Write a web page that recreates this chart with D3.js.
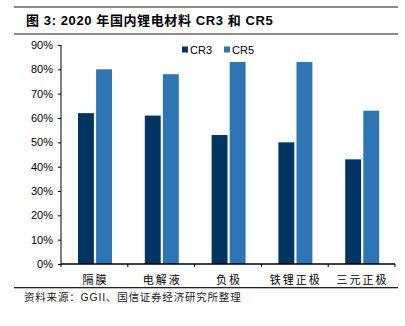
<!DOCTYPE html>
<html>
<head>
<meta charset="utf-8">
<style>
  html, body { margin: 0; padding: 0; background: #fff; }
  svg { display: block; font-family: "Liberation Sans", Arial, "Noto Sans CJK SC", sans-serif; }
</style>
</head>
<body>
<svg id="chart" width="405" height="326"></svg>
<script src="https://cdn.jsdelivr.net/npm/d3@7/dist/d3.min.js"></script>
<script>
// 2020 domestic lithium battery material concentration
const categories = ["隔膜", "电解液", "负极", "铁锂正极", "三元正极"];
const seriesNames = ["CR3", "CR5"];
const cr3 = [62, 61, 53, 50, 43];
const cr5 = [80, 78, 83, 83, 63];
const yTicks = [0, 10, 20, 30, 40, 50, 60, 70, 80, 90];

const colors = ["#003462", "#2e75b6"];
const svg = d3.select("#chart");

// header rules and title
svg.append("rect").attr("x", 14).attr("y", 6).attr("width", 384).attr("height", 2).attr("fill", "#8c8c8c");
svg.append("rect").attr("x", 14).attr("y", 33).attr("width", 384).attr("height", 2).attr("fill", "#8c8c8c");
svg.append("text")
   .attr("x", 26).attr("y", 25)
   .style("font-size", "13px").style("font-weight", "bold")
   .style("letter-spacing", "0.6px")
   .text("图 3: 2020 年国内锂电材料 CR3 和 CR5");

const x = d3.scaleBand().domain(categories).range([61, 395]);
const y = d3.scaleLinear().domain([0, 90]).range([264, 45]);
const inner = d3.scaleBand().domain(seriesNames).range([17, 51]).paddingInner(0.12);

// y axis
const yAxis = svg.append("g")
   .attr("transform", "translate(61,0)")
   .call(d3.axisLeft(y).tickValues(yTicks).tickSize(3).tickFormat(d => d + "%"));
yAxis.selectAll("text").style("font-size", "11px").attr("fill", "#000").attr("dx", "-2");
yAxis.selectAll("line").attr("stroke", "#000");
yAxis.select(".domain").attr("stroke", "#000").attr("d", "M0," + y(90) + "V" + y(0));

// bars
const groups = svg.selectAll("g.cat")
   .data(categories)
   .enter().append("g")
   .attr("class", "cat")
   .attr("transform", d => "translate(" + x(d) + ",0)");

groups.selectAll("rect")
   .data((d, i) => [{s: "CR3", v: cr3[i]}, {s: "CR5", v: cr5[i]}])
   .enter().append("rect")
   .attr("x", d => inner(d.s))
   .attr("width", inner.bandwidth())
   .attr("y", d => y(d.v))
   .attr("height", d => y(0) - y(d.v))
   .attr("fill", (d, i) => colors[i]);

// x axis
const xAxis = svg.append("g").attr("transform", "translate(0," + y(0) + ")");
xAxis.append("line").attr("x1", 61).attr("x2", 395).attr("stroke", "#000").attr("stroke-width", 1.3);
xAxis.selectAll("line.tick")
   .data(d3.range(categories.length + 1))
   .enter().append("line")
   .attr("class", "tick")
   .attr("x1", i => i < categories.length ? x(categories[i]) : x.range()[1])
   .attr("x2", i => i < categories.length ? x(categories[i]) : x.range()[1])
   .attr("y1", 0).attr("y2", 3)
   .attr("stroke", "#000");
xAxis.selectAll("text")
   .data(categories)
   .enter().append("text")
   .attr("x", d => x(d) + x.bandwidth() / 2 + 1)
   .attr("y", 20)
   .attr("text-anchor", "middle")
   .style("font-size", "11px")
   .style("letter-spacing", "2px")
   .style("font-family", "'Noto Sans CJK SC', sans-serif")
   .text(d => d);

// legend
const legend = svg.selectAll("g.leg")
   .data(seriesNames)
   .enter().append("g")
   .attr("class", "leg")
   .attr("transform", (d, i) => "translate(" + (182 + i * 42) + ",50)");
legend.append("rect").attr("x", 0).attr("y", -3.5).attr("width", 6).attr("height", 6).attr("fill", (d, i) => colors[i]);
legend.append("text").attr("x", 8).attr("y", 4).style("font-size", "11px").text(d => d);

// footer
svg.append("rect").attr("x", 14).attr("y", 287).attr("width", 384).attr("height", 1.3).attr("fill", "#222");
svg.append("text")
   .attr("x", 24).attr("y", 301)
   .style("font-size", "10.5px")
   .style("letter-spacing", "0.8px")
   .attr("fill", "#222")
   .text("资料来源：GGII、国信证券经济研究所整理");
</script>
</body>
</html>
